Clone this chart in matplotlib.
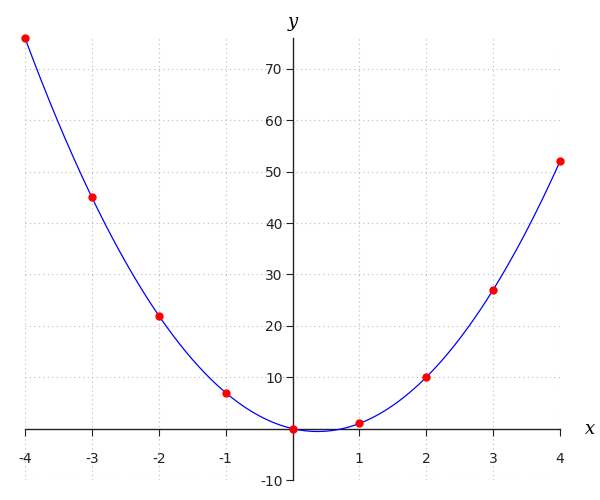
import numpy as np
import matplotlib
matplotlib.use('Agg')
import matplotlib.pyplot as plt

plt.rcParams['axes.unicode_minus'] = False

x_points = [-4, -3, -2, -1, 0, 1, 2, 3, 4]
y_points = [76, 45, 22, 7, 0, 1, 10, 27, 52]
x_ticks = [-4, -3, -2, -1, 1, 2, 3, 4]
y_ticks = [-10, 10, 20, 30, 40, 50, 60, 70]

# smooth curve through the points: quadratic least-squares fit
coef = np.polyfit(x_points, y_points, 2)
xs = np.linspace(min(x_points), max(x_points), 400)
ys = np.polyval(coef, xs)

fig = plt.figure(figsize=(6, 5), dpi=100)
ax = fig.add_axes([25 / 600, 20 / 500, 535 / 600, 442 / 500])

ax.plot(xs, ys, color='#0000ff', linewidth=0.9, zorder=3, clip_on=False)
ax.plot(x_points, y_points, 'o', color='#ff0000', markersize=5, zorder=4, clip_on=False)

ax.set_xlim(-4, 4)
ax.set_ylim(-10, 76)

ax.spines['left'].set_position(('data', 0))
ax.spines['bottom'].set_position(('data', 0))
ax.spines['top'].set_visible(False)
ax.spines['right'].set_visible(False)
for s in ('left', 'bottom'):
    ax.spines[s].set_linewidth(1.0)
    ax.spines[s].set_color('#222222')

ax.set_xticks(x_ticks)
ax.set_yticks(y_ticks)
ax.tick_params(axis='x', direction='out', length=5, pad=12, labelsize=10, colors='#222222')
ax.tick_params(axis='y', direction='out', length=5, pad=2, labelsize=10, colors='#222222')

ax.grid(True, linestyle=(0, (1, 3)), color='#bbbbbb', linewidth=0.8)
ax.set_axisbelow(True)

ax.text(4.45, 0, 'x', fontsize=13, family='serif', style='italic',
        ha='center', va='center', transform=ax.transData, clip_on=False)
ax.text(0, 79.2, 'y', fontsize=13, family='serif', style='italic',
        ha='center', va='center', transform=ax.transData, clip_on=False)

fig.savefig('out.png', dpi=100)
